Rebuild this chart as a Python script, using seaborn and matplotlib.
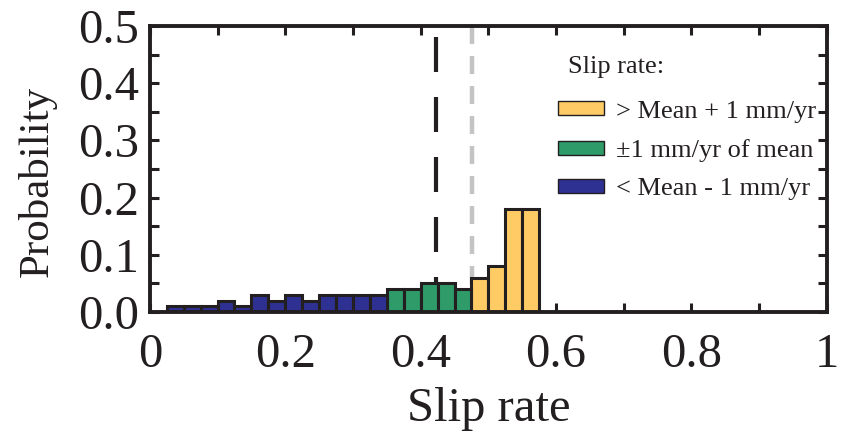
import numpy as np
import pandas as pd
import matplotlib
matplotlib.use("Agg")
import matplotlib.pyplot as plt
from matplotlib.patches import Patch
from matplotlib.ticker import MultipleLocator, FuncFormatter
import seaborn as sns

# ---- data ----
bin_width = 0.025
bin_left = [0.025, 0.05, 0.075, 0.1, 0.125, 0.15, 0.175, 0.2, 0.225, 0.25, 0.275, 0.3, 0.325,
            0.35, 0.375, 0.4, 0.425, 0.45,
            0.475, 0.5, 0.525, 0.55]
probability = [0.01, 0.01, 0.01, 0.02, 0.01, 0.03, 0.02, 0.03, 0.02, 0.03, 0.03, 0.03, 0.03,
               0.04, 0.04, 0.05, 0.05, 0.04,
               0.06, 0.08, 0.18, 0.18]
group = ["low"] * 13 + ["mid"] * 5 + ["high"] * 4
group_labels = {"high": "> Mean + 1 mm/yr", "mid": "\u00b11 mm/yr of mean", "low": "< Mean - 1 mm/yr"}
group_colors = {"high": "#FFCB65", "mid": "#2E9B68", "low": "#2E3192"}
legend_title = "Slip rate:"
mean_rate = 0.422
ref_rate = 0.476

df = pd.DataFrame({"left": bin_left, "p": probability, "group": group})
df["center"] = df["left"] + bin_width / 2

sns.set_theme(style="ticks")
plt.rcParams["font.family"] = ["Liberation Serif", "DejaVu Serif"]
plt.rcParams["lines.scale_dashes"] = False

fig = plt.figure(figsize=(8.42, 4.34), dpi=100)
ax = fig.add_axes([0.178, 0.281, 0.804, 0.659])

edge = "#231F20"
# reference lines (behind bars)
ax.plot([ref_rate, ref_rate], [0.5, 0.0], color="#C4C4C4", lw=3.2,
        dashes=(13, 8.6), zorder=1, solid_capstyle="butt", dash_capstyle="butt")
ax.plot([mean_rate, mean_rate], [0.0, 0.5], color="#231F20", lw=3.0,
        dashes=(25.2, 18), zorder=1, solid_capstyle="butt", dash_capstyle="butt")

sns.histplot(data=df, x="center", weights="p", hue="group",
             binwidth=bin_width, binrange=(0.0, 1.0),
             palette=group_colors, multiple="layer", alpha=1.0,
             edgecolor=edge, linewidth=2.2, legend=False, ax=ax, zorder=2)

ax.set_xlim(0, 1)
ax.set_ylim(0, 0.5)

ax.xaxis.set_major_locator(MultipleLocator(0.1))
ax.yaxis.set_major_locator(MultipleLocator(0.05))
labels_map = {0: "0", 2: "0.2", 4: "0.4", 6: "0.6", 8: "0.8", 10: "1"}


def xfmt(v, pos):
    k = int(round(v * 10))
    if abs(v * 10 - k) < 1e-6:
        return labels_map.get(k, "")
    return ""


def yfmt(v, pos):
    k = round(v * 10)
    return f"{v:.1f}" if abs(v * 10 - k) < 1e-6 else ""


ax.xaxis.set_major_formatter(FuncFormatter(xfmt))
ax.yaxis.set_major_formatter(FuncFormatter(yfmt))

ax.tick_params(axis="both", which="major", direction="in", length=6.5, width=2.2,
               top=True, right=True, labelsize=35, color=edge, labelcolor="#231F20")
ax.tick_params(axis="x", pad=15)
ax.tick_params(axis="y", pad=8)
for s in ax.spines.values():
    s.set_linewidth(2.8)
    s.set_color(edge)

ax.set_xlabel("Slip rate", fontsize=35, color="#231F20", labelpad=7)
ax.set_ylabel("Probability", fontsize=31, color="#231F20")
ax.yaxis.set_label_coords(-0.137, 0.455)

ax.text(0.617, 0.857, legend_title, transform=ax.transAxes, fontsize=19,
        ha="left", va="center", color="#231F20")
handles = [Patch(facecolor=group_colors[k], edgecolor=edge, linewidth=1.0, label=group_labels[k])
           for k in ["high", "mid", "low"]]
leg = ax.legend(handles=handles, loc="upper left",
                bbox_to_anchor=(0.603, 0.739), frameon=False, fontsize=19,
                handlelength=1.75, handleheight=0.45, borderpad=0.0,
                handletextpad=0.45, labelspacing=0.62, borderaxespad=0.0)
for t in leg.get_texts():
    t.set_color("#231F20")

fig.savefig("out.png", dpi=100)
